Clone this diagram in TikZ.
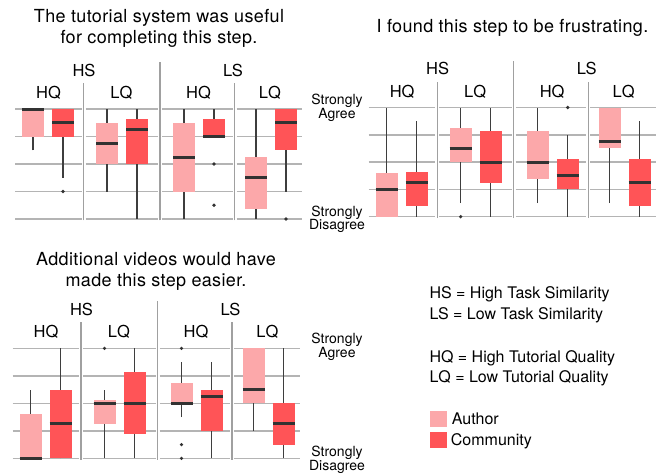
\documentclass[tikz,border=0pt]{standalone}
\usepackage{fontspec}
\setmainfont{TeX Gyre Heros}
\newfontfamily\titlefont[LetterSpace=2]{TeX Gyre Heros}
\usepackage{tikz}
\usetikzlibrary{positioning}

\definecolor{AuthorPink}{RGB}{252,168,170}
\definecolor{CommunityRed}{RGB}{255,84,87}
\definecolor{GridGray}{RGB}{180,180,180}
\definecolor{SepGray}{RGB}{160,160,160}
\definecolor{WhiskerGray}{RGB}{62,62,62}
\definecolor{MedianGray}{RGB}{50,50,50}

\tikzset{
	gridline/.style={GridGray, line width=1.5pt},
	facetsep/.style={SepGray, line width=1.3pt},
	whisker/.style={WhiskerGray, line width=1.5pt},
	median/.style={MedianGray, line width=3pt},
	facetlabel/.style={font=\fontsize{16.5}{18}\selectfont, anchor=base, inner sep=0pt},
	scalelabel/.style={font=\fontsize{14}{13.3}\selectfont, align=center, inner sep=0pt},
	plottitle/.style={font=\titlefont\fontsize{18}{21}\selectfont, align=center, inner sep=0pt},
	legendtext/.style={font=\fontsize{16}{18}\selectfont, anchor=base west, inner sep=0pt}
}

% one box: x, colour, lower whisker, q1, median, q3, upper whisker
\newcommand{\likertbox}[7]{%
	\draw[whisker] (#1,#3) -- (#1,#7);
	\fill[#2] (#1-11,#4) rectangle (#1+11,#6);
	\draw[median] (#1-11,#5) -- (#1+11,#5);
}
\newcommand{\outlier}[2]{\fill[MedianGray] (#1,#2) circle (1.8pt);}

% grid lines, facet separators and facet strips of one panel
\newcommand{\facetgrid}[1]{%
	\foreach \v in {1,...,5} {
		\draw[gridline] (15,\v) -- (81.5,\v);
		\draw[gridline] (85.5,\v) -- (158,\v);
		\draw[gridline] (162,\v) -- (232.5,\v);
		\draw[gridline] (236.5,\v) -- (302,\v);
	}
	\draw[facetsep] (83.5,0.95) -- (83.5,5.95);
	\draw[facetsep] (234.5,0.95) -- (234.5,5.95);
	\draw[facetsep] (160,0.95) -- (160,6.71);
	\node[facetlabel] (#1-hs) at (84,6.2) {HS};
	\node[facetlabel] (#1-ls) at (233,6.2) {LS};
	\node[facetlabel] (#1-hs-hq) at (48.5,5.38) {HQ};
	\node[facetlabel] (#1-hs-lq) at (121.5,5.38) {LQ};
	\node[facetlabel] (#1-ls-hq) at (198.5,5.38) {HQ};
	\node[facetlabel] (#1-ls-lq) at (270,5.38) {LQ};
}

\begin{document}
\begin{tikzpicture}[x=1pt, y=-1pt]
	\useasboundingbox (0,0) rectangle (658,475);

	% useful
	\node[plottitle] (useful-title) at (159,28.3) {The tutorial system was useful\\for completing this step.};
	\begin{scope}[shift={(0,246.5)}, y=27.5pt]
		\facetgrid{useful}
		\likertbox{33}{AuthorPink}{3.5}{4}{5}{5}{5}
		\likertbox{63}{CommunityRed}{2.5}{4}{4.5}{5}{5}
		\outlier{63}{2}
		\likertbox{107}{AuthorPink}{2}{3}{3.75}{4.5}{5}
		\likertbox{137}{CommunityRed}{1}{3}{4.25}{4.625}{5}
		\likertbox{184}{AuthorPink}{1}{2}{3.25}{4.5}{5}
		\likertbox{214}{CommunityRed}{4}{4}{4}{4.625}{5}
		\outlier{214}{3}
		\outlier{214}{1.5}
		\likertbox{256}{AuthorPink}{1}{1.375}{2.5}{3.25}{5}
		\likertbox{286}{CommunityRed}{2}{3.5}{4.5}{5}{5}
		\outlier{286}{1}
		\node[scalelabel] (useful-agree) at (337,5.04) {Strongly\\Agree};
		\node[scalelabel] (useful-disagree) at (337,0.99) {Strongly\\Disagree};
	\end{scope}

	% frustrating
	\node[plottitle, anchor=base] (frustrating-title) at (512.5,32.3) {I found this step to be frustrating.};
	\begin{scope}[shift={(353.7,244)}, y=27.3pt]
		\facetgrid{frustrating}
		\likertbox{33}{AuthorPink}{1}{1}{2}{2.6}{5}
		\likertbox{63}{CommunityRed}{1}{1.375}{2.25}{2.625}{4.5}
		\likertbox{107}{AuthorPink}{1.5}{3}{3.5}{4.25}{5}
		\outlier{107}{1}
		\likertbox{137}{CommunityRed}{1}{2.25}{3}{4.125}{5}
		\likertbox{184}{AuthorPink}{1.5}{2.375}{3}{4.125}{5}
		\likertbox{214}{CommunityRed}{1}{2}{2.5}{3.125}{4}
		\outlier{214}{5}
		\likertbox{256}{AuthorPink}{1.5}{3.5}{3.75}{5}{5}
		\likertbox{286}{CommunityRed}{1}{1.375}{2.25}{3.125}{4.5}
	\end{scope}

	% videos
	\node[plottitle] (videos-title) at (156,271) {Additional videos would have\\made this step easier.};
	\begin{scope}[shift={(-2.5,485.8)}, y=27.5pt]
		\facetgrid{videos}
		\likertbox{33}{AuthorPink}{1}{1}{1}{2.625}{3.5}
		\likertbox{63}{CommunityRed}{1}{1}{2.25}{3.5}{5}
		\likertbox{107}{AuthorPink}{1}{2.25}{3}{3.125}{3.5}
		\outlier{107}{5}
		\likertbox{137}{CommunityRed}{1}{1.875}{3}{4.125}{5}
		\likertbox{184}{AuthorPink}{2.5}{3}{3}{3.75}{4.5}
		\outlier{184}{5}
		\outlier{184}{1.5}
		\outlier{184}{1}
		\likertbox{214}{CommunityRed}{1}{2}{3.25}{3.5}{4.5}
		\likertbox{256}{AuthorPink}{2}{3}{3.5}{5}{5}
		\likertbox{286}{CommunityRed}{1}{1.5}{2.25}{3}{5}
		\node[scalelabel] (videos-agree) at (339.5,5.05) {Strongly\\Agree};
		\node[scalelabel] (videos-disagree) at (339.5,0.95) {Strongly\\Disagree};
	\end{scope}

	% key
	\node[legendtext] (key-hs) at (429.3,298.7) {HS = High Task Similarity};
	\node[legendtext] (key-ls) at (429.3,319.3) {LS = Low Task Similarity};
	\node[legendtext] (key-hq) at (429.3,362) {HQ = High Tutorial Quality};
	\node[legendtext] (key-lq) at (429.3,382.7) {LQ = Low Tutorial Quality};
	\fill[AuthorPink] (430,411) rectangle (446.7,427);
	\fill[CommunityRed] (430,432.3) rectangle (446.7,448.3);
	\node[legendtext] (key-author) at (451.7,424.3) {Author};
	\node[legendtext] (key-community) at (450.7,445.7) {Community};
\end{tikzpicture}
\end{document}
